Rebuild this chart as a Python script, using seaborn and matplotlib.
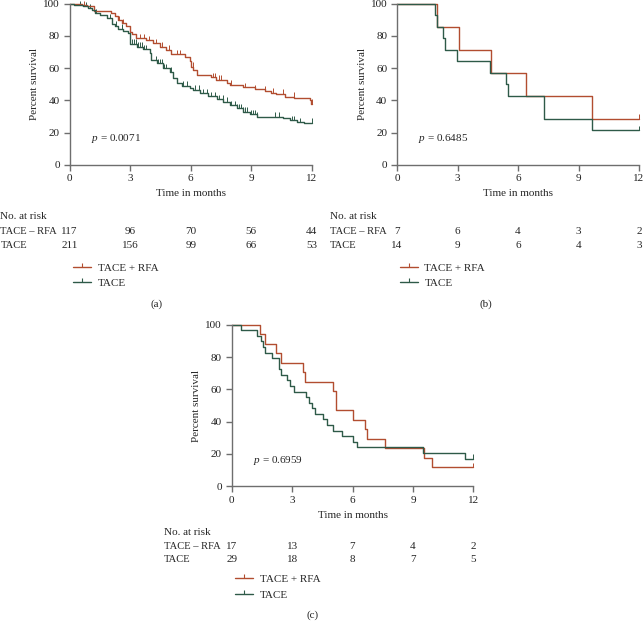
import seaborn as sns
import matplotlib.pyplot as plt
from matplotlib.lines import Line2D
import pandas as pd
import numpy as np

sns.set_style("ticks")
plt.rcParams['font.family'] = ['Liberation Serif', 'DejaVu Serif']
plt.rcParams['mathtext.fontset'] = 'custom'
plt.rcParams['mathtext.it'] = 'Liberation Serif:italic'
plt.rcParams['mathtext.rm'] = 'Liberation Serif'
plt.rcParams['font.size'] = 8

RED = '#b24d30'
GREEN = '#2e5a48'
AXIS_GRAY = '#6e6e6e'

months = [0, 3, 6, 9, 12]
groups = ["TACE + RFA", "TACE"]
risk_labels = ["TACE \u2013 RFA", "TACE"]

# ---- panel (a) ----
a_rfa_t = [0.6, 0.85, 1.2, 2.05, 2.25, 2.4, 2.58, 2.8, 3.0, 3.07, 3.3, 3.8, 4.15, 4.5,
           4.77, 5.0, 5.7, 5.97, 6.02, 6.13, 6.3, 6.99, 7.27, 7.82, 7.94, 8.6, 9.17,
           9.67, 10.0, 10.25, 10.66, 11.12, 11.9, 11.98]
a_rfa_s = [99.1, 98.3, 95.2, 94.0, 92.5, 89.6, 88.0, 86.3, 82.2, 81.0, 78.6, 77.2, 75.5, 73.4,
           71.4, 68.7, 67.2, 64.7, 61.0, 59.0, 55.6, 54.4, 52.7, 50.6, 49.6, 48.1, 46.9,
           46.0, 44.8, 44.0, 42.3, 41.7, 40.2, 37.8]
a_rfa_cens = [0.7, 2.45, 2.65, 3.5, 3.7, 3.95, 4.3, 4.6, 4.9, 5.3, 5.45, 6.1, 7.1, 7.2,
              7.4, 7.5, 8.0, 8.7, 9.2, 9.7, 10.1, 10.6, 11.1, 12.0]
a_tace_t = [0.2, 0.5, 0.68, 0.93, 1.1, 1.26, 1.5, 1.83, 2.08, 2.25, 2.4, 2.65, 2.9, 3.0,
            3.32, 3.65, 3.98, 4.02, 4.31, 4.64, 4.98, 5.14, 5.3, 5.55, 5.97, 6.13, 6.46,
            6.88, 7.29, 7.62, 7.95, 8.28, 8.6, 8.94, 9.27, 10.6, 10.93, 11.26, 11.6]
a_tace_s = [99.5, 99.0, 98.3, 97.2, 96.3, 94.2, 92.9, 91.1, 87.6, 86.3, 84.6, 83.0, 81.7, 75.1,
            73.4, 71.8, 69.7, 65.1, 63.1, 60.0, 57.9, 53.7, 50.6, 49.0, 47.9, 46.5, 44.4,
            42.7, 40.7, 39.2, 37.1, 35.1, 33.0, 31.5, 29.9, 28.8, 27.8, 26.6, 26.1]
a_tace_cens = [0.5, 0.8, 1.0, 1.3, 2.0, 2.3, 2.6, 3.1, 3.2, 3.3, 3.4, 3.5, 3.6, 3.7, 3.8,
               4.3, 4.4, 4.5, 4.6, 4.7, 4.8, 5.0, 5.6, 5.8, 6.2, 6.4, 6.6, 6.8, 7.0, 7.2,
               7.4, 7.6, 7.8, 8.0, 8.2, 8.3, 8.4, 8.5, 8.6, 8.7, 8.8, 9.0, 9.1, 9.2, 9.3,
               10.2, 10.4, 11.0, 11.1, 11.4, 12.0]
a_risk_rfa = [117, 96, 70, 56, 44]
a_risk_tace = [211, 156, 99, 66, 53]
a_p = "0.0071"

# ---- panel (b) ----
b_rfa_t = [1.97, 3.09, 4.68, 6.40, 9.67]
b_rfa_s = [85.7, 71.4, 57.1, 42.9, 28.6]
b_rfa_cens = [12.0]
b_tace_t = [1.88, 1.97, 2.28, 2.36, 2.98, 4.60, 5.39, 5.49, 7.30, 9.67]
b_tace_s = [92.9, 85.7, 78.6, 71.4, 64.3, 57.1, 50.0, 42.9, 28.6, 21.4]
b_tace_cens = [12.0]
b_risk_rfa = [7, 6, 4, 3, 2]
b_risk_tace = [14, 9, 6, 4, 3]
b_p = "0.6485"

# ---- panel (c) ----
c_rfa_t = [1.39, 1.64, 2.22, 2.47, 3.54, 3.63, 5.03, 5.2, 6.01, 6.62, 6.7, 7.62, 9.55, 9.93]
c_rfa_s = [94.1, 88.2, 82.4, 76.5, 70.6, 64.7, 58.8, 47.1, 41.2, 35.3, 29.4, 23.5, 17.6, 11.8]
c_rfa_cens = [12.0]
c_tace_t = [0.48, 1.27, 1.47, 1.55, 1.65, 1.99, 2.33, 2.37, 2.45, 2.76, 2.9, 3.08, 3.69,
            3.85, 4.0, 4.15, 4.55, 4.75, 5.05, 5.5, 6.01, 6.21, 9.52, 11.59]
c_tace_s = [96.6, 93.1, 89.7, 86.2, 82.8, 79.3, 75.9, 72.4, 69.0, 65.5, 62.1, 58.6, 55.2,
            51.7, 48.3, 44.8, 41.4, 37.9, 34.5, 31.0, 27.6, 24.1, 20.7, 17.2]
c_tace_cens = [12.0]
c_risk_rfa = [17, 13, 7, 4, 2]
c_risk_tace = [29, 18, 8, 7, 5]
c_p = "0.6959"


def km_frame(times, surv, group):
    t = [0] + list(times) + [12]
    s = [100] + list(surv) + [surv[-1]]
    return pd.DataFrame({"Time": t, "Survival": s, "Group": group})


def censor_frame(times, surv, cens, group):
    tt = np.r_[0, times]
    ss = np.r_[100, surv]
    idx = np.searchsorted(tt, cens, side='right') - 1
    return pd.DataFrame({"Time": cens, "Survival": ss[idx], "Group": group})


def draw_panel(ax, rfa, tace, p, risk_rfa, risk_tace, letter, lab_x, rows, letter_x, leg_x):
    km = pd.concat([km_frame(rfa[0], rfa[1], groups[0]),
                    km_frame(tace[0], tace[1], groups[1])])
    cens = pd.concat([censor_frame(rfa[0], rfa[1], rfa[2], groups[0]),
                      censor_frame(tace[0], tace[1], tace[2], groups[1])])
    sns.lineplot(data=km, x="Time", y="Survival", hue="Group", hue_order=groups,
                 palette=[RED, GREEN], drawstyle='steps-post', estimator=None, sort=False,
                 linewidth=1.0, legend=False, ax=ax)
    sns.scatterplot(data=cens, x="Time", y="Survival", hue="Group", hue_order=groups,
                    palette=[RED, GREEN], marker=2, s=10, linewidth=0.7, legend=False, ax=ax)
    for art in ax.lines + ax.collections:
        art.set_clip_on(False)

    ax.set_xlim(0, 12)
    ax.set_ylim(0, 100)
    ax.set_xticks(months)
    ax.set_yticks(range(0, 101, 20))
    sns.despine(ax=ax)
    for sp in ("left", "bottom"):
        ax.spines[sp].set_color(AXIS_GRAY)
        ax.spines[sp].set_linewidth(1.0)
    ax.tick_params(direction='out', length=4, width=1.0, color=AXIS_GRAY,
                   labelsize=8, labelcolor='#222222', pad=3)
    ax.set_xlabel("Time in months", fontsize=8, labelpad=4)
    ax.set_ylabel("Percent survival", fontsize=8, labelpad=3)

    ax.text(1.05, 16, "$p$ = " + p, fontsize=8, ha='left', va='center')

    xt = ax.get_xaxis_transform()
    ax.text(lab_x, rows[0], "No. at risk", transform=ax.transAxes, ha='left', va='center')
    for lab, counts, y in zip(risk_labels, [risk_rfa, risk_tace], rows[1:3]):
        ax.text(lab_x, y, lab, transform=ax.transAxes, ha='left', va='center', fontsize=7.6)
        for m, n in zip(months, counts):
            ax.text(m, y, str(n), transform=xt, ha='center', va='center')

    handles = [Line2D([], [], color=c, lw=1.0, marker=2, markersize=3, markeredgewidth=0.8)
               for c in (RED, GREEN)]
    ax.legend(handles, groups, loc='upper left', bbox_to_anchor=(leg_x, rows[3]),
              frameon=False, borderpad=0, borderaxespad=0, handlelength=1.6,
              handletextpad=0.6, labelspacing=0.5, fontsize=8)
    ax.text(letter_x, rows[4], letter, transform=ax.transAxes, ha='center', va='center')


fig = plt.figure(figsize=(6.44, 6.23), dpi=100)
ax_a = fig.add_axes([0.1082, 0.7356, 0.3758, 0.2584])
ax_b = fig.add_axes([0.6165, 0.7356, 0.3758, 0.2584])
ax_c = fig.add_axes([0.3598, 0.2194, 0.3752, 0.2594])

rows_top = [-0.324, -0.416, -0.503, -0.612, -0.865]
rows_c = [-0.283, -0.37, -0.452, -0.545, -0.795]

draw_panel(ax_a, (a_rfa_t, a_rfa_s, a_rfa_cens), (a_tace_t, a_tace_s, a_tace_cens), a_p,
           a_risk_rfa, a_risk_tace, "(a)", -0.286, rows_top, 0.36, 0.014)
draw_panel(ax_b, (b_rfa_t, b_rfa_s, b_rfa_cens), (b_tace_t, b_tace_s, b_tace_cens), b_p,
           b_risk_rfa, b_risk_tace, "(b)", -0.277, rows_top, 0.368, 0.012)
draw_panel(ax_c, (c_rfa_t, c_rfa_s, c_rfa_cens), (c_tace_t, c_tace_s, c_tace_cens), c_p,
           c_risk_rfa, c_risk_tace, "(c)", -0.28, rows_c, 0.336, 0.014)

plt.savefig('out.png', dpi=100)
plt.close()
